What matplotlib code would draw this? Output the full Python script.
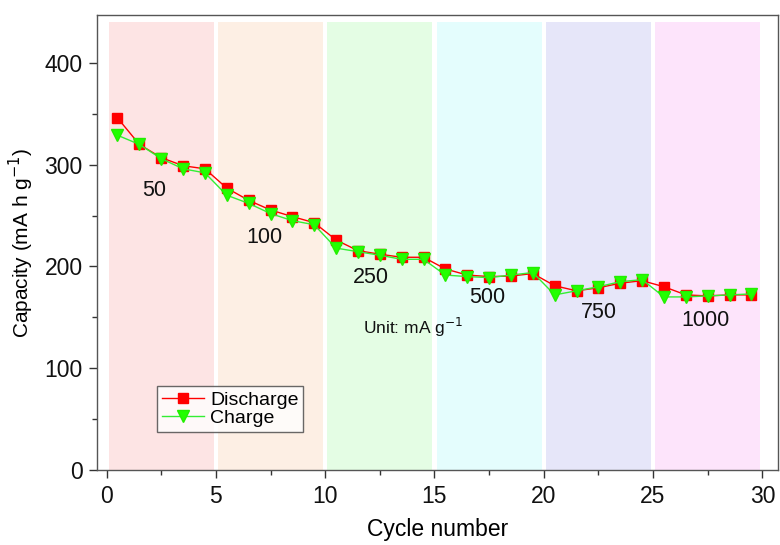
import matplotlib
matplotlib.use("Agg")
import matplotlib.pyplot as plt
from matplotlib.ticker import MultipleLocator

plt.rcParams['font.family'] = ['Liberation Sans', 'DejaVu Sans']

cycles = [i + 0.5 for i in range(30)]
discharge = [346, 320, 307, 299, 296, 277, 265, 255.5, 249, 243,
             226, 215.5, 212, 209, 209, 197.5, 191.5, 190, 190.5, 193,
             181, 176, 179, 183.5, 186, 180, 172, 171, 172, 172]
charge = [329, 320, 306, 296, 292, 270, 262, 252, 245, 241,
          218, 214.5, 211, 207, 207, 191.5, 190, 189, 191.5, 194,
          172, 176, 180, 185, 187, 170, 170, 171, 172, 173]

regions = [(0, 5), (5, 10), (10, 15), (15, 20), (20, 25), (25, 30)]
region_colors = ['#fde4e4', '#fdefe4', '#e4fde4', '#e4fdfd', '#e6e6f9', '#fde4fb']
rate_labels = ['50', '100', '250', '500', '750', '1000']
rate_pos = [(2.2, 275), (7.2, 228), (12.1, 189), (17.4, 169), (22.5, 155), (27.4, 147)]

fig = plt.figure(figsize=(7.8, 5.45), dpi=100)
ax = fig.add_axes([0.124, 0.138, 0.873, 0.834])

for (a, b), c in zip(regions, region_colors):
    ax.fill_between([a + 0.1, b - 0.1], 0, 440, color=c, lw=0, zorder=0)

ax.plot(cycles, discharge, color='#ff0000', lw=1, marker='s', ms=7,
        mfc='#ff0000', mec='#ff0000', label='Discharge', zorder=3)
ax.plot(cycles, charge, color='#33ee33', lw=1, marker='v', ms=9,
        mfc='#22ff00', mec='#22ee00', label='Charge', zorder=4)

for t, (x, y) in zip(rate_labels, rate_pos):
    ax.text(x, y, t, fontsize=15.5, ha='center', va='center', color='#111111')
ax.text(14.0, 140, 'Unit: mA g$^{-1}$', fontsize=12.5, ha='center', va='center', color='#111111')

ax.set_xlim(-0.45, 30.7)
ax.set_ylim(0, 447)
ax.xaxis.set_major_locator(MultipleLocator(5))
ax.xaxis.set_minor_locator(MultipleLocator(2.5))
ax.yaxis.set_major_locator(MultipleLocator(100))
ax.yaxis.set_minor_locator(MultipleLocator(50))
ax.tick_params(which='major', direction='out', length=6, width=1, labelsize=16.5,
               colors='#333333', labelcolor='#111111', pad=4)
ax.tick_params(axis='x', which='major', pad=5)
ax.tick_params(which='minor', direction='out', length=3.5, width=1, colors='#333333')
for s in ax.spines.values():
    s.set_color('#555555')
    s.set_linewidth(1)

ax.set_xlabel('Cycle number', fontsize=16.5, labelpad=7)
ax.set_ylabel('Capacity (mA h g$^{-1}$)', fontsize=15, labelpad=6)

leg = ax.legend(loc='lower left', bbox_to_anchor=(0.088, 0.083), fontsize=14,
                frameon=True, fancybox=False, edgecolor='#444444',
                handlelength=2.2, borderpad=0.25, labelspacing=0.05, handletextpad=0.3,
                borderaxespad=0)
leg.get_frame().set_linewidth(1)

fig.savefig('out.png', dpi=100)
